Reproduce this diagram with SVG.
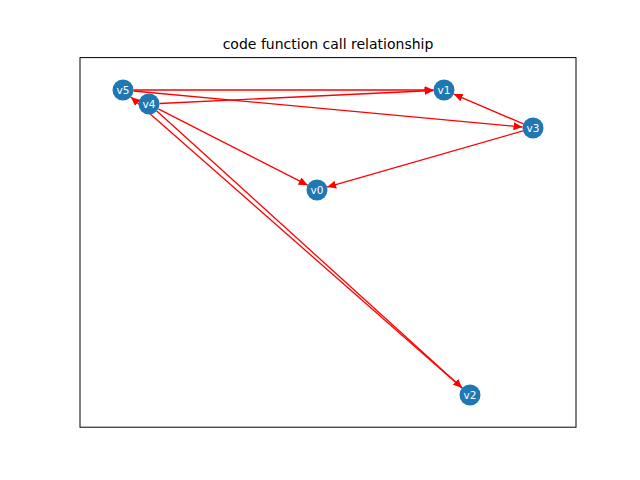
<svg xmlns="http://www.w3.org/2000/svg" width="640" height="480" viewBox="0 0 640 480">
<defs>
<marker id="ah" markerUnits="userSpaceOnUse" markerWidth="12" markerHeight="10" refX="9" refY="4" orient="auto">
<path d="M0,0 L9,4 L0,8 Z" fill="#ff0000"/>
</marker>
<style>
.edge{stroke:#ff0000;stroke-width:1.3;fill:none;marker-end:url(#ah)}
.node circle{fill:#1f77b4}
.node text{fill:#ffffff;font-family:"DejaVu Sans",sans-serif;font-size:10.5px;text-anchor:middle;dominant-baseline:central}
</style>
</defs>
<rect width="640" height="480" fill="#ffffff"/>
<rect x="80" y="57.6" width="496" height="369.6" fill="none" stroke="#000000" stroke-width="1"/>
<text x="328" y="49" font-family="DejaVu Sans, sans-serif" font-size="14" text-anchor="middle" fill="#000000">code function call relationship</text>
<g id="edges">
<line class="edge" x1="133.5" y1="90" x2="433.5" y2="90"/>
<line class="edge" x1="159.5" y1="103.5" x2="433.5" y2="90.5"/>
<line class="edge" x1="133.5" y1="91" x2="522.5" y2="127"/>
<line class="edge" x1="523.4" y1="123.9" x2="453.7" y2="94.1"/>
<line class="edge" x1="522.9" y1="130.9" x2="327.1" y2="187.1"/>
<line class="edge" x1="158.3" y1="108.8" x2="307.7" y2="185.2"/>
<line class="edge" x1="156.8" y1="111" x2="462.2" y2="387.9"/>
<line class="edge" x1="462.1" y1="388.1" x2="130.9" y2="97"/>
</g>
<g id="v5" class="node"><circle cx="123" cy="90" r="10.5"/><text x="123" y="90">v5</text></g>
<g id="v4" class="node"><circle cx="149" cy="104" r="10.5"/><text x="149" y="104">v4</text></g>
<g id="v1" class="node"><circle cx="444" cy="90" r="10.5"/><text x="444" y="90">v1</text></g>
<g id="v3" class="node"><circle cx="533" cy="128" r="10.5"/><text x="533" y="128">v3</text></g>
<g id="v0" class="node"><circle cx="317" cy="190" r="10.5"/><text x="317" y="190">v0</text></g>
<g id="v2" class="node"><circle cx="470" cy="395" r="10.5"/><text x="470" y="395">v2</text></g>
</svg>
